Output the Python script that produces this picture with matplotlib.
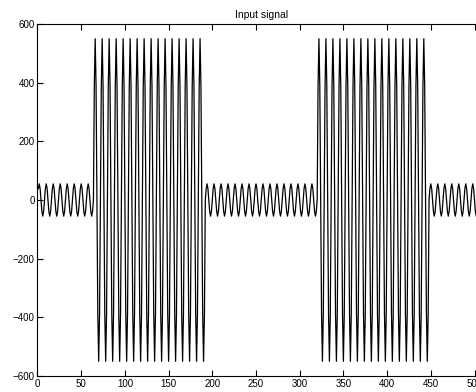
import numpy as np
import matplotlib
matplotlib.use("Agg")
import matplotlib.pyplot as plt

plt.rcParams['font.family'] = ['Liberation Sans', 'DejaVu Sans']

# One cycle of the carrier (8 samples per period)
cycle_shape = [0.707, 1.0, 0.707, 0.0, -0.707, -1.0, -0.707, 0.0]
# Segments: (start sample, end sample, amplitude)
segment_starts = [1, 65, 193, 321, 449]
segment_ends = [64, 192, 320, 448, 512]
segment_amps = [55, 550, 55, 550, 55]

title = "Input signal"
xticks = [0, 50, 100, 150, 200, 250, 300, 350, 400, 450, 500]
yticks = [-600, -400, -200, 0, 200, 400, 600]

n = np.arange(1, 513)
shape = np.array(cycle_shape)[(n - 1) % len(cycle_shape)]
amp = np.zeros_like(n, dtype=float)
for s, e, a in zip(segment_starts, segment_ends, segment_amps):
    amp[(n >= s) & (n <= e)] = a
y = amp * shape

fig = plt.figure(figsize=(4.77, 3.92), dpi=100)
W, H = 477, 392
left_px, top_px, bottom_px = 37.5, 24, 376
px_per_unit = 437 / 500
xmax = 512
ax = fig.add_axes([left_px / W, (H - bottom_px) / H,
                   xmax * px_per_unit / W, (bottom_px - top_px) / H])
ax.plot(n, y, color='black', linewidth=0.9)
ax.set_xlim(0, xmax)
ax.set_ylim(-600, 600)
ax.set_xticks(xticks)
ax.set_yticks(yticks)
ax.set_yticklabels(['\u2212600', '\u2212400', '\u2212200', '0', '200', '400', '600'])
ax.tick_params(direction='in', top=True, right=True, labelsize=7, length=4,
               width=0.8, pad=2)
for sp in ax.spines.values():
    sp.set_linewidth(0.8)
ax.set_title(title, fontsize=7.5, pad=4)
fig.savefig('out.png', dpi=100)
